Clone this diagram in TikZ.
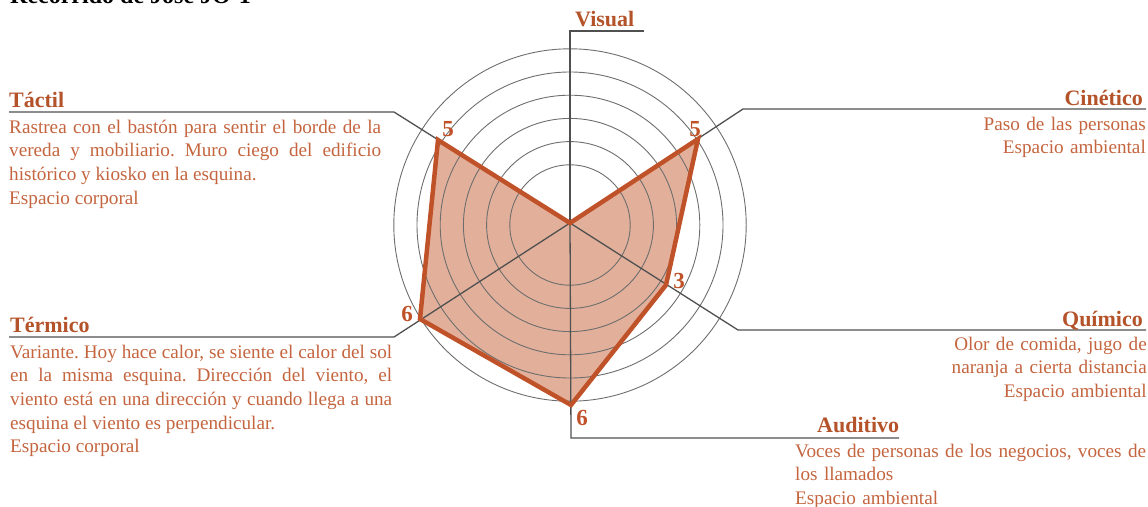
\documentclass[tikz,border=0pt]{standalone}
\usepackage{fontspec}
\setmainfont{Liberation Serif}
\definecolor{headc}{HTML}{B4532A}
\definecolor{bodyc}{HTML}{C4653F}
\definecolor{polyfill}{HTML}{E2B09A}
\definecolor{polyline}{HTML}{C0522A}
\definecolor{leadc}{HTML}{505050}
\definecolor{ringc}{HTML}{6E6E6E}
\begin{document}
\frenchspacing
\begin{tikzpicture}[x=1pt,y=-1pt,
  heading/.style={font=\fontsize{22}{26}\selectfont\bfseries, text=headc, inner sep=0pt},
  bodytext/.style={font=\fontsize{19.2}{23.7}\selectfont\frenchspacing, text=bodyc, inner sep=0pt},
  valuelabel/.style={font=\fontsize{23}{26}\selectfont\bfseries, text=polyline, inner sep=0pt},
  leader/.style={draw=leadc, line width=1.3pt},
  ring/.style={draw=ringc, line width=0.9pt},
]
\clip (0,0) rectangle (1148,506);
\useasboundingbox (0,0) rectangle (1148,506);
% centre and vertices
\coordinate (C) at (570,223);
\coordinate (RC) at (570,225);
\coordinate (vTac) at (438,140);
\coordinate (vCin) at (698,139);
\coordinate (vQui) at (666,285);
\coordinate (vAud) at (571,405);
\coordinate (vTer) at (420,319);
% elbows
\coordinate (eVis) at (570,31);
\coordinate (eCin) at (743,109);
\coordinate (eQui) at (738,330);
\coordinate (eAud) at (571,438);
\coordinate (eTer) at (394,337);
\coordinate (eTac) at (394,112);
% ends
\coordinate (fVis) at (644,31);
\coordinate (fCin) at (1146,109);
\coordinate (fQui) at (1146,330);
\coordinate (fAud) at (899,438);
\coordinate (fTer) at (9,337);
\coordinate (fTac) at (9,112);
% fill
\fill[polyfill] (C) -- (vCin) -- (vQui) -- (vAud) -- (vTer) -- (vTac) -- cycle;
% rings
\foreach \r in {60.2,83.4,106.6,129.8,153,176.2}
  \draw[ring] (RC) circle[radius=\r];
% spokes and leaders
\draw[leader] (C) -- (eVis) -- (fVis);
\draw[leader] (C) -- (eCin) -- (fCin);
\draw[leader] (C) -- (eQui) -- (fQui);
\draw[leader] (C) -- (eAud) -- (fAud);
\draw[leader] (C) -- (eTer) -- (fTer);
\draw[leader] (C) -- (eTac) -- (fTac);
% polygon outline
\draw[polyline, line width=4.5pt, line join=miter] (C) -- (vCin) -- (vQui) -- (vAud) -- (vTer) -- (vTac) -- cycle;
% value labels
\node[valuelabel] (nTac) at (448,129) {5};
\node[valuelabel] (nCin) at (695,129) {5};
\node[valuelabel] (nQui) at (679,281) {3};
\node[valuelabel] (nTer) at (407,314) {6};
\node[valuelabel] (nAud) at (582,418) {6};
% title
\node[anchor=base west, inner sep=0pt, font=\fontsize{24}{28}\selectfont\bfseries] (title) at (10,3.5) {Recorrido de José JO-1};
% headings
\node[heading, anchor=base west] (hVis) at (575,27) {Visual};
\node[heading, anchor=base west] (hTac) at (9,107) {Táctil};
\node[heading, anchor=base east] (hCin) at (1143,105) {Cinético};
\node[heading, anchor=base east] (hQui) at (1143,326) {Químico};
\node[heading, anchor=base west] (hAud) at (817,432) {Auditivo};
\node[heading, anchor=base west] (hTer) at (10,332) {Térmico};
% bodies
\node[bodytext, anchor=base west, text width=372pt, align=justify] (bTac) at (9,133)
  {Rastrea con el bastón para sentir el borde de la\linebreak vereda y mobiliario. Muro ciego del edificio\linebreak histórico y kiosko en la esquina.\\Espacio corporal};
\node[bodytext, anchor=base east, text width=250pt, align=right] (bCin) at (1146,130)
  {Paso de las personas\\Espacio ambiental};
\node[bodytext, anchor=base east, text width=250pt, align=right] (bQui) at (1147,350)
  {Olor de comida, jugo de\\naranja a cierta distancia\\Espacio ambiental};
\node[bodytext, anchor=base west, text width=360pt, align=left] (bAud) at (795,457)
  {Voces de personas de los negocios, voces de\\los llamados\\Espacio ambiental};
\node[bodytext, anchor=base west, text width=382pt, align=justify] (bTer) at (10,358)
  {Variante. Hoy hace calor, se siente el calor del sol\linebreak en la misma esquina. Dirección del viento, el\linebreak viento está en una dirección y cuando llega a una\linebreak esquina el viento es perpendicular.\\Espacio corporal};
\end{tikzpicture}
\end{document}
